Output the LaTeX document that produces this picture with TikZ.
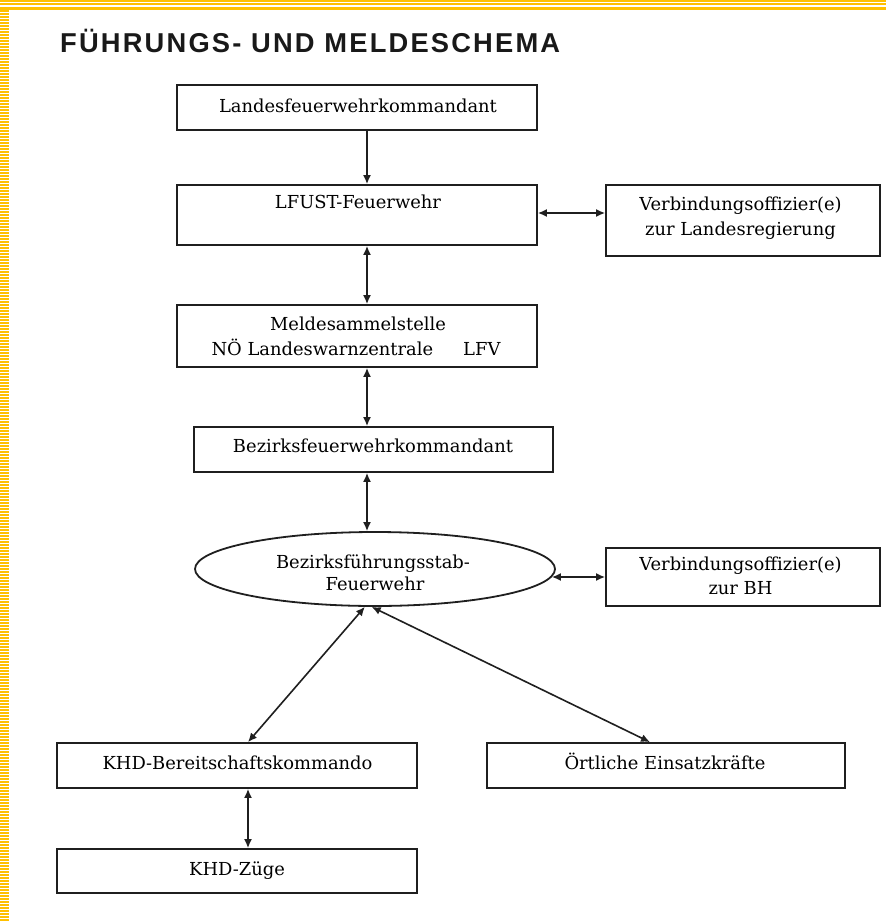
\documentclass[tikz,border=0pt]{standalone}
\usepackage{fontspec}
\setmainfont{DejaVu Serif}
\newfontfamily\titlefont[LetterSpace=8]{Liberation Sans}
\usetikzlibrary{arrows.meta,shapes.geometric}
\definecolor{bandyellow}{RGB}{255,192,0}
\begin{document}
\begin{tikzpicture}[x=1pt,y=-1pt,
  box/.style={draw=black!88, line width=1.8pt, inner sep=0pt, rectangle},
  ellbox/.style={draw=black!88, line width=1.8pt, inner sep=0pt, ellipse},
  txt/.style={anchor=base, inner sep=0pt, text=black, font=\fontsize{17.9}{21}\selectfont},
  conn/.style={line width=1.6pt, black!88},
  tip/.style={-{Latex[length=9pt,width=8pt]}},
  both/.style={{Latex[length=9pt,width=8pt]}-{Latex[length=9pt,width=8pt]}}
]
\useasboundingbox (0,0) rectangle (886,921);
\fill[white] (0,0) rectangle (886,921);
% decorative border
\fill[bandyellow] (0,0) rectangle (886,2);
\fill[bandyellow] (0,3.3) rectangle (886,5.3);
\fill[bandyellow] (0,6.7) rectangle (886,9.7);
\fill[bandyellow] (0,10) rectangle (9,921);
\foreach \yy in {12,15,...,920} \fill[white] (0,\yy) rectangle (9,\yy+0.7);
% title
\node[anchor=base west, inner sep=0pt, text=black!90, font=\titlefont\bfseries\fontsize{27.3}{30}\selectfont] (title) at (60,52) {FÜHRUNGS- UND MELDESCHEMA};
% boxes
\node[box, minimum width=360, minimum height=45] (lfk) at (357,107.5) {};
\node[box, minimum width=360, minimum height=60] (lfust) at (357,215) {};
\node[box, minimum width=274, minimum height=71] (v1) at (743,220.5) {};
\node[box, minimum width=360, minimum height=62] (mss) at (357,336) {};
\node[box, minimum width=359, minimum height=45] (bfk) at (373.5,449.5) {};
\node[ellbox, minimum width=360, minimum height=74] (ell) at (375,569) {};
\node[box, minimum width=274, minimum height=58] (vbh) at (743,577) {};
\node[box, minimum width=360, minimum height=45] (khdb) at (237,765.5) {};
\node[box, minimum width=358, minimum height=45] (oe) at (666,765.5) {};
\node[box, minimum width=360, minimum height=44] (khdz) at (237,871) {};
% texts
\node[txt] (tlfk) at (358,112) {Landesfeuerwehrkommandant};
\node[txt] (tlfust) at (358,208) {LFUST-Feuerwehr};
\node[txt] (tv1a) at (740.5,210) {Verbindungsoffizier(e)};
\node[txt] (tv1b) at (740.5,235) {zur Landesregierung};
\node[txt] (tmssa) at (358,330) {Meldesammelstelle};
\node[txt] (tmssb) at (356,355) {NÖ Landeswarnzentrale\hspace{30pt}LFV};
\node[txt] (tbfk) at (373,452) {Bezirksfeuerwehrkommandant};
\node[txt] (tella) at (373,568) {Bezirksführungsstab-};
\node[txt] (tellb) at (375,590) {Feuerwehr};
\node[txt] (tvbha) at (740.5,570) {Verbindungsoffizier(e)};
\node[txt] (tvbhb) at (740.5,594) {zur BH};
\node[txt] (tkhdb) at (237.5,769) {KHD-Bereitschaftskommando};
\node[txt] (toe) at (665,769) {Örtliche Einsatzkräfte};
\node[txt] (tkhdz) at (237,875) {KHD-Züge};
% connectors
\coordinate (ellR) at ([xshift=-4]ell.east |- vbh.west);
\draw[conn, tip] ([xshift=10]lfk.south) -- ([xshift=10]lfust.north);
\draw[conn, both] ([yshift=2]lfust.east) -- ([yshift=2]lfust.east -| v1.west);
\draw[conn, both] ([xshift=10]lfust.south) -- ([xshift=10]mss.north);
\draw[conn, both] ([xshift=10]mss.south) -- ([xshift=-6.5]bfk.north);
\draw[conn, both] ([xshift=-6.5]bfk.south) -- ([xshift=-8]ell.north);
\draw[conn, both] (ellR) -- (vbh.west);
\draw[conn, both] (ell.-105) -- ([xshift=11]khdb.north);
\draw[conn, both] (ell.-95) -- ([xshift=-16]oe.north);
\draw[conn, both] ([xshift=11]khdb.south) -- ([xshift=11]khdz.north);
\end{tikzpicture}
\end{document}
